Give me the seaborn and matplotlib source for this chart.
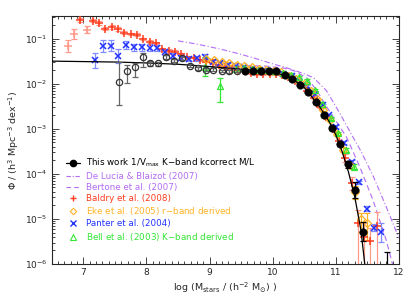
import numpy as np
import pandas as pd
import matplotlib
matplotlib.use("Agg")
import matplotlib.pyplot as plt
from matplotlib.lines import Line2D
from matplotlib.ticker import MultipleLocator, LogLocator, NullFormatter
import seaborn as sns

# ---------------- data (log10 phi) ----------------
# This work, 1/Vmax, complete range (filled)
work_x = [9.56, 9.69, 9.81, 9.94, 10.06, 10.19, 10.31, 10.44, 10.56, 10.69, 10.81, 10.94, 11.06, 11.19, 11.31, 11.44]
work_logphi = [-1.73, -1.73, -1.71, -1.71, -1.72, -1.80, -1.90, -2.04, -2.18, -2.41, -2.70, -2.98, -3.34, -3.79, -4.35, -5.28]
work_err = [0.02, 0.02, 0.02, 0.02, 0.02, 0.02, 0.02, 0.02, 0.02, 0.03, 0.03, 0.04, 0.05, 0.07, 0.18, 0.22]
# This work, incomplete range (open)
work_open_x = [7.56, 7.69, 7.81, 7.94, 8.06, 8.19, 8.31, 8.44, 8.56, 8.69, 8.81, 8.94, 9.06, 9.19, 9.31, 9.44]
work_open_logphi = [-1.96, -1.73, -1.62, -1.40, -1.55, -1.55, -1.40, -1.49, -1.44, -1.60, -1.66, -1.69, -1.69, -1.72, -1.73, -1.71]
work_open_err_lo = [0.51, 0.26, 0.23, 0.22, 0.06, 0.05, 0.05, 0.04, 0.04, 0.03, 0.03, 0.03, 0.03, 0.03, 0.03, 0.03]
work_open_err_hi = [0.45, 0.14, 0.07, 0.07, 0.05, 0.04, 0.04, 0.04, 0.03, 0.03, 0.03, 0.03, 0.03, 0.03, 0.03, 0.03]
# upper-limit bin at the high-mass end
work_lim_x = [11.81]
work_lim_logphi = [-6.5]
work_lim_err_hi = [0.77]

# Schechter fit line
fit_x = [6.5, 7.0, 7.5, 8.0, 8.5, 9.0, 9.5, 10.0, 10.25, 10.5, 10.75, 10.9, 11.0, 11.1, 11.2, 11.3, 11.4, 11.46]
fit_logphi = [-1.50, -1.51, -1.52, -1.54, -1.57, -1.62, -1.68, -1.74, -1.84, -2.08, -2.52, -2.85, -3.13, -3.50, -3.95, -4.50, -5.25, -6.0]

# De Lucia & Blaizot (2007)
dl_x = [8.5, 8.75, 9.0, 9.25, 9.5, 9.75, 10.0, 10.25, 10.5, 10.65, 10.85, 11.05, 11.2, 11.4, 11.6, 11.8, 11.96, 12.0]
dl_logphi = [-1.05, -1.11, -1.18, -1.26, -1.35, -1.45, -1.56, -1.66, -1.78, -1.87, -2.15, -2.62, -3.0, -3.5, -4.07, -4.73, -5.28, -5.42]

# Bertone et al. (2007)
bt_x = [9.3, 9.6, 9.9, 10.2, 10.35, 10.55, 10.7, 10.85, 11.0, 11.17, 11.38, 11.59, 11.8, 11.9]
bt_logphi = [-1.62, -1.60, -1.61, -1.66, -1.72, -1.88, -2.15, -2.50, -2.82, -3.18, -3.84, -4.58, -5.47, -6.0]

# Baldry et al. (2008)
bd_x = [6.75, 6.85, 6.95, 7.05, 7.15, 7.25, 7.35, 7.45, 7.55, 7.65, 7.75, 7.85, 7.95, 8.05, 8.15,
        8.25, 8.35, 8.45, 8.55, 8.65, 8.75, 8.85, 8.95, 9.05, 9.15, 9.25, 9.35, 9.45, 9.55, 9.65,
        9.75, 9.85, 9.95, 10.05, 10.15, 10.25, 10.35, 10.45, 10.55, 10.65, 10.75, 10.85, 10.95, 11.05, 11.15,
        11.25, 11.35, 11.45, 11.55, 11.65]
bd_logphi = [-1.16, -0.90, -0.59, -0.80, -0.60, -0.65, -0.78, -0.74, -0.79, -0.87, -0.90, -0.91, -1.01, -1.07, -1.10,
             -1.24, -1.27, -1.29, -1.34, -1.40, -1.42, -1.48, -1.51, -1.55, -1.59, -1.63, -1.67, -1.70, -1.73, -1.76,
             -1.78, -1.79, -1.79, -1.79, -1.81, -1.86, -1.93, -2.03, -2.16, -2.32, -2.52, -2.75, -3.00, -3.28, -3.65,
             -4.20, -5.10, -5.40, -5.50, -5.15]
bd_err_lo = [0.13, 0.11, 0.05, 0.07, 0.04, 0.04, 0.04, 0.04, 0.04, 0.03, 0.03, 0.03, 0.03, 0.03, 0.03,
             0.03, 0.03, 0.03, 0.02, 0.02, 0.02, 0.02, 0.02, 0.02, 0.02, 0.02, 0.02, 0.02, 0.02, 0.02,
             0.02, 0.02, 0.02, 0.02, 0.02, 0.02, 0.02, 0.02, 0.02, 0.03, 0.03, 0.03, 0.04, 0.05, 0.08,
             0.15, 2.0, 2.0, 2.0, 2.0]
bd_err_hi = [0.13, 0.11, 0.05, 0.07, 0.04, 0.04, 0.04, 0.04, 0.04, 0.03, 0.03, 0.03, 0.03, 0.03, 0.03,
             0.03, 0.03, 0.03, 0.02, 0.02, 0.02, 0.02, 0.02, 0.02, 0.02, 0.02, 0.02, 0.02, 0.02, 0.02,
             0.02, 0.02, 0.02, 0.02, 0.02, 0.02, 0.02, 0.02, 0.02, 0.03, 0.03, 0.03, 0.04, 0.05, 0.08,
             0.12, 0.30, 0.30, 0.30, 0.30]
bd_pale = [6.75, 6.85, 7.05]

# Eke et al. (2005)
ek_x = [8.95, 9.07, 9.19, 9.31, 9.43, 9.55, 9.67, 9.79, 9.90, 10.02, 10.14, 10.26, 10.37, 10.49, 10.60,
        10.70, 10.80, 10.91, 11.02, 11.12, 11.22, 11.31, 11.40, 11.50]
ek_logphi = [-1.45, -1.48, -1.52, -1.55, -1.58, -1.61, -1.64, -1.67, -1.69, -1.71, -1.75, -1.82, -1.90, -2.01, -2.17,
             -2.34, -2.58, -2.80, -3.12, -3.46, -3.80, -4.40, -5.00, -5.08]
ek_err_lo = [0.03] * 19 + [0.05, 0.08, 0.15, 0.28, 0.39]
ek_err_hi = [0.03] * 19 + [0.05, 0.07, 0.13, 0.13, 0.21]

# Panter et al. (2004)
pt_x = [7.18, 7.31, 7.43, 7.55, 7.68, 7.80, 7.93, 8.05, 8.17, 8.30, 8.42, 8.55, 8.67, 8.80, 8.92, 9.05, 9.17, 9.30, 9.42,
        9.55, 9.67, 9.80, 9.92, 10.05, 10.17, 10.30, 10.42, 10.55, 10.67, 10.80, 10.90, 11.00, 11.13, 11.25, 11.37,
        11.49, 11.60, 11.71]
pt_logphi = [-1.48, -1.16, -1.16, -1.38, -1.14, -1.19, -1.19, -1.20, -1.21, -1.30, -1.38, -1.42, -1.45, -1.44, -1.40,
             -1.51, -1.55, -1.58, -1.61, -1.64, -1.67, -1.70, -1.72, -1.74, -1.78, -1.84, -1.93, -2.05, -2.24, -2.48,
             -2.70, -2.95, -3.31, -3.73, -4.19, -4.77, -5.19, -5.30]
pt_err = [0.17, 0.13, 0.12, 0.16, 0.09, 0.08, 0.08, 0.07, 0.07, 0.06, 0.06, 0.05, 0.05, 0.05, 0.05, 0.04, 0.04, 0.03,
          0.03, 0.03, 0.03, 0.03, 0.03, 0.03, 0.03, 0.03, 0.03, 0.03, 0.03, 0.03, 0.03, 0.03, 0.03, 0.03, 0.04,
          0.06, 0.08, 0.22]

# Bell et al. (2003)
bl_x = [8.92, 9.17, 9.42, 9.54, 9.67, 9.79, 9.92, 10.04, 10.17, 10.29, 10.42, 10.54, 10.67, 10.79, 10.92, 11.04, 11.17, 11.29]
bl_logphi = [-1.62, -2.06, -1.68, -1.66, -1.68, -1.70, -1.70, -1.72, -1.76, -1.80, -1.86, -1.93, -2.14, -2.44, -2.77,
             -3.10, -3.47, -3.84]
bl_err_lo = [0.22, 0.34, 0.07, 0.04, 0.03, 0.03, 0.03, 0.03, 0.03, 0.03, 0.03, 0.03, 0.03, 0.03, 0.03, 0.03, 0.04, 0.05]
bl_err_hi = [0.22, 0.18, 0.07, 0.04, 0.03, 0.03, 0.03, 0.03, 0.03, 0.03, 0.03, 0.03, 0.03, 0.03, 0.03, 0.03, 0.04, 0.05]

# ---------------- style ----------------
C_BLACK = "#000000"
C_PURPLE = "#b36cf2"
C_RED = "#ff3b1c"
C_RED_PALE = "#ff9a8a"
C_ORANGE = "#ffb224"
C_BLUE = "#2233ff"
C_BLUE_PALE = "#7f8cff"
C_GREEN = "#33e633"

sns.set_style("ticks")
plt.rcParams["font.family"] = ["DejaVu Sans"]
plt.rcParams["mathtext.default"] = "regular"

fig = plt.figure(figsize=(4.15, 2.97), dpi=100)
ax = fig.add_axes([0.125, 0.111, 0.836, 0.835])
ax.set_yscale("log")


def lin(v):
    return 10.0 ** np.asarray(v, dtype=float)


def errs(logv, lo, hi):
    v = lin(logv)
    return np.vstack([v - lin(np.asarray(logv) - np.asarray(lo)), lin(np.asarray(logv) + np.asarray(hi)) - v])


# model lines
sns.lineplot(x=dl_x, y=lin(dl_logphi), ax=ax, color=C_PURPLE, lw=0.8, linestyle=(0, (5, 2, 1, 2)), sort=False)
sns.lineplot(x=bt_x, y=lin(bt_logphi), ax=ax, color=C_PURPLE, lw=0.8, linestyle=(0, (5, 3)), sort=False)

# Baldry
ax.errorbar(bd_x, lin(bd_logphi), yerr=errs(bd_logphi, bd_err_lo, bd_err_hi), fmt="none",
            ecolor=C_RED_PALE, elinewidth=0.9, capsize=2.2, capthick=0.9, zorder=3)
bright = [i for i, x in enumerate(bd_x) if x not in bd_pale]
pale = [i for i, x in enumerate(bd_x) if x in bd_pale]
ax.plot(np.array(bd_x)[bright], lin(np.array(bd_logphi)[bright]), ls="none", marker="+", ms=6, mew=1.1,
        color=C_RED, zorder=4)
ax.plot(np.array(bd_x)[pale], lin(np.array(bd_logphi)[pale]), ls="none", marker="+", ms=6, mew=1.1,
        color=C_RED_PALE, zorder=4)

# Panter
ax.errorbar(pt_x, lin(pt_logphi), yerr=errs(pt_logphi, pt_err, pt_err), fmt="none",
            ecolor=C_BLUE_PALE, elinewidth=0.9, capsize=2.2, capthick=0.9, zorder=3)
ax.plot(pt_x, lin(pt_logphi), ls="none", marker="x", ms=4.5, mew=1.1, color=C_BLUE, zorder=4)

# Eke
ax.errorbar(ek_x, lin(ek_logphi), yerr=errs(ek_logphi, ek_err_lo, ek_err_hi), fmt="none",
            ecolor=C_ORANGE, elinewidth=0.9, capsize=2.2, capthick=0.9, zorder=3)
ax.plot(ek_x, lin(ek_logphi), ls="none", marker="D", ms=3.8, mew=0.9, mfc="none", color=C_ORANGE, zorder=4)

# Bell
ax.errorbar(bl_x, lin(bl_logphi), yerr=errs(bl_logphi, bl_err_lo, bl_err_hi), fmt="none",
            ecolor=C_GREEN, elinewidth=0.9, capsize=2.2, capthick=0.9, zorder=3)
ax.plot(bl_x, lin(bl_logphi), ls="none", marker="^", ms=4.5, mew=0.9, mfc="none", color=C_GREEN, zorder=4)

# This work
sns.lineplot(x=fit_x, y=lin(fit_logphi), ax=ax, color=C_BLACK, lw=0.9, sort=False, zorder=5)
ax.errorbar(work_open_x, lin(work_open_logphi), yerr=errs(work_open_logphi, work_open_err_lo, work_open_err_hi),
            fmt="none", ecolor="#666666", elinewidth=0.9, capsize=2.2, capthick=0.9, zorder=5)
ax.plot(work_open_x, lin(work_open_logphi), ls="none", marker="o", ms=4.5, mew=0.9, mfc="none",
        color="#333333", zorder=6)
ax.errorbar(work_x, lin(work_logphi), yerr=errs(work_logphi, work_err, work_err), fmt="none",
            ecolor=C_BLACK, elinewidth=0.9, capsize=2.2, capthick=0.9, zorder=6)
ax.errorbar(work_lim_x, lin(work_lim_logphi), yerr=errs(work_lim_logphi, [0.0], work_lim_err_hi), fmt="none",
            ecolor=C_BLACK, elinewidth=0.9, capsize=2.2, capthick=0.9, zorder=6)
sns.scatterplot(x=work_x, y=lin(work_logphi), ax=ax, color=C_BLACK, s=30, edgecolor=C_BLACK, linewidth=0.3,
                zorder=7, legend=False)

# axes
ax.set_xlim(6.5, 12.0)
ax.set_ylim(1e-6, 10 ** -0.5)
ax.xaxis.set_major_locator(MultipleLocator(1))
ax.xaxis.set_minor_locator(MultipleLocator(0.1))
ax.yaxis.set_major_locator(LogLocator(base=10, numticks=10))
ax.yaxis.set_minor_locator(LogLocator(base=10, subs=np.arange(2, 10), numticks=20))
ax.yaxis.set_minor_formatter(NullFormatter())
ax.tick_params(which="both", direction="in", top=True, right=True, width=0.6, labelsize=6.5, pad=3)
ax.tick_params(which="major", length=5)
ax.tick_params(which="minor", length=2.5)
for s in ax.spines.values():
    s.set_linewidth(0.8)

ax.set_xlabel(r"log (M$_{\rm stars}$ / (h$^{-2}$ M$_{\odot}$) )", fontsize=6.8, labelpad=2)
ax.set_ylabel(r"$\Phi$ / (h$^{3}$ Mpc$^{-3}$ dex$^{-1}$)", fontsize=6.8, labelpad=3)

# legend
handles = [
    Line2D([], [], color=C_BLACK, lw=0.9, marker="o", ms=4.5),
    Line2D([], [], color=C_PURPLE, lw=0.8, linestyle=(0, (4, 1.5, 1, 1.5))),
    Line2D([], [], color=C_PURPLE, lw=0.8, linestyle=(0, (4, 3))),
    Line2D([], [], color=C_RED, ls="none", marker="+", ms=5, mew=1.0),
    Line2D([], [], color=C_ORANGE, ls="none", marker="D", ms=3.3, mew=0.8, mfc="none"),
    Line2D([], [], color=C_BLUE, ls="none", marker="x", ms=4.2, mew=1.0),
    Line2D([], [], color=C_GREEN, ls="none", marker="^", ms=4.2, mew=0.8, mfc="none"),
]
labels = [
    r"This work 1/V$_{\rm max}$ K$-$band kcorrect M/L",
    "De Lucia & Blaizot (2007)",
    "Bertone et al. (2007)",
    "Baldry et al. (2008)",
    r"Eke et al. (2005) r$-$band derived",
    "Panter et al. (2004)",
    r"Bell et al. (2003) K$-$band derived",
]
colors = [C_BLACK, C_PURPLE, C_PURPLE, C_RED, C_ORANGE, C_BLUE, C_GREEN]
leg = ax.legend(handles, labels, loc="center left", bbox_to_anchor=(0.04, 0.259), frameon=False, fontsize=6.3,
                handlelength=1.6, handletextpad=0.7, labelspacing=0.25, borderaxespad=0.0, borderpad=0.0)
for t, c in zip(leg.get_texts(), colors):
    t.set_color(c)

fig.savefig("out.png", dpi=100)
